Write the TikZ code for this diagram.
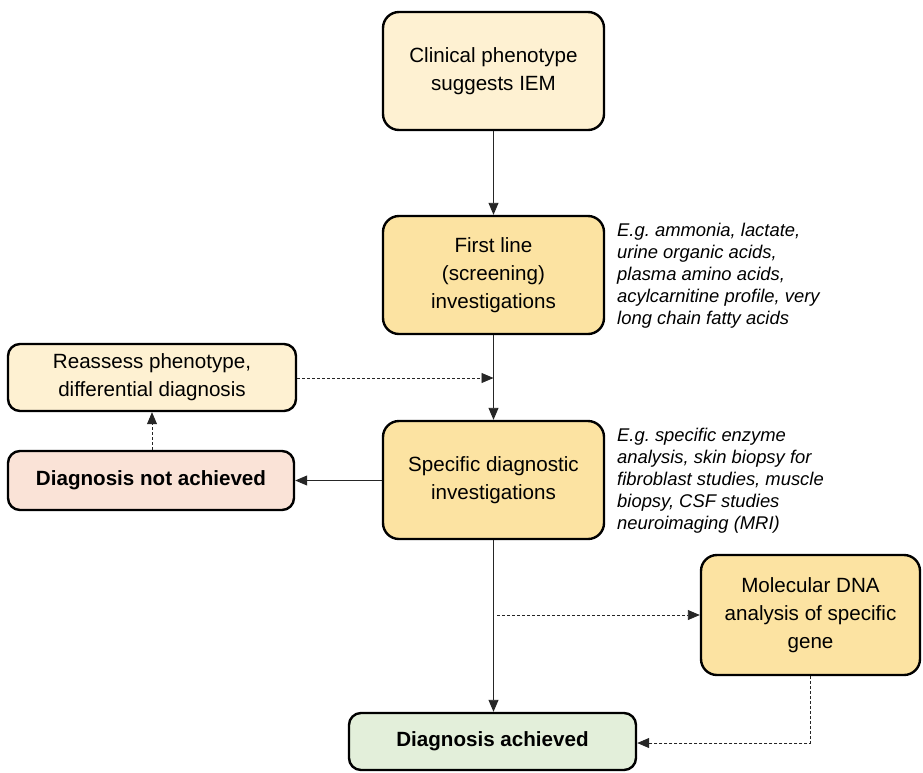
\documentclass[tikz,border=0pt]{standalone}
\usepackage{fontspec}
\setmainfont{Liberation Sans}
\usetikzlibrary{arrows.meta}
\frenchspacing
\definecolor{cream}{HTML}{FEF1D2}
\definecolor{gold}{HTML}{FCE3A2}
\definecolor{pinkish}{HTML}{FAE3D7}
\definecolor{greenish}{HTML}{E3EFDA}
\begin{document}
\begin{tikzpicture}[x=1pt,y=-1pt,
  box/.style={draw=black,line width=2.4pt,rounded corners=16pt,align=center,inner sep=0pt,
    font=\fontsize{20.6}{28}\selectfont},
  boldbox/.style={box,font=\fontsize{20.6}{28}\selectfont\bfseries},
  note/.style={align=left,anchor=west,inner sep=0pt,font=\fontsize{18.4}{22}\selectfont\itshape},
  conn/.style={draw=black!85,line width=0.9pt,-{Triangle[length=12pt,width=10pt]}},
  dconn/.style={conn,dash pattern=on 3pt off 2pt}]
\useasboundingbox (0,0) rectangle (923,772);
\node[box,fill=cream,minimum width=221pt,minimum height=118pt] (clin) at (493.5,71) {Clinical phenotype\\suggests IEM};
\node[box,fill=gold,minimum width=221pt,minimum height=118pt] (first) at (493.5,275) {First line\\(screening)\\investigations};
\node[box,fill=cream,minimum width=288pt,minimum height=67pt,rounded corners=12pt] (reass) at (152,377.5) {Reassess phenotype,\\differential diagnosis};
\node[boldbox,fill=pinkish,minimum width=286pt,minimum height=59pt,rounded corners=12pt] (notach) at (151,480.5) {Diagnosis not achieved};
\node[box,fill=gold,minimum width=221pt,minimum height=118pt] (spec) at (493.5,480) {Specific diagnostic\\investigations};
\node[box,fill=gold,minimum width=219pt,minimum height=120pt] (mol) at (810.5,615) {Molecular DNA\\analysis of specific\\gene};
\node[boldbox,fill=greenish,minimum width=287pt,minimum height=57pt,rounded corners=12pt] (ach) at (492.5,741.5) {Diagnosis achieved};
\node[note] (n1) at (617,276) {E.g. ammonia, lactate,\\urine organic acids,\\plasma amino acids,\\acylcarnitine profile, very\\long chain fatty acids};
\node[note] (n2) at (617,480.5) {E.g. specific enzyme\\analysis, skin biopsy for\\fibroblast studies, muscle\\biopsy, CSF studies\\neuroimaging (MRI)};
\coordinate (j1) at (493.5,378);
\coordinate (j2) at (497,615);
\coordinate (c3) at (810.5,743);
\draw[conn] (clin) -- (first);
\draw[conn] (first) -- (spec);
\draw[dconn] (reass.east |- j1) -- (j1);
\draw[conn] (spec.west |- notach) -- (notach.east);
\draw[dconn] (notach.north -| reass) -- (reass.south);
\draw[conn] (spec.south) -- (spec.south |- ach.north);
\draw[dconn] (j2) -- (mol.west);
\draw[dconn] (mol.south) -- (c3) -- (ach.east |- c3);
\end{tikzpicture}
\end{document}
